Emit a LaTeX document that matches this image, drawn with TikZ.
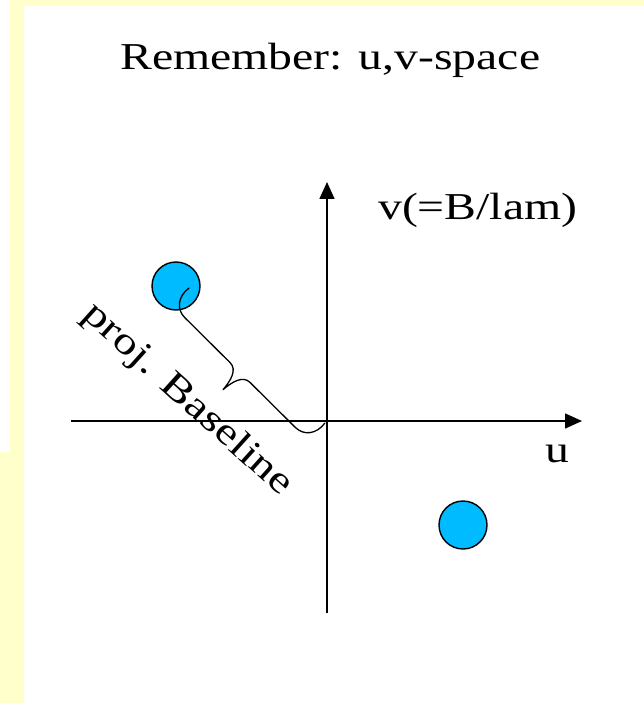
\documentclass[tikz,border=0pt]{standalone}
\usepackage{fontspec}
\usetikzlibrary{arrows.meta}
\newfontfamily\wide[FakeStretch=1.256]{Liberation Serif}
\definecolor{bgyellow}{RGB}{255,255,204}
\definecolor{dotcyan}{RGB}{0,187,255}
\begin{document}
\begin{tikzpicture}[x=1pt,y=-1pt,
  lbl/.style={inner sep=0pt, font=\wide\fontsize{38}{45}\selectfont},
  axis/.style={line width=1.6pt, -{Triangle[length=17pt,width=15pt]}},
  dot/.style={circle, draw=black, line width=1.4pt, fill=dotcyan, minimum size=48pt, inner sep=0pt},
  bracepath/.style={line width=1.3pt, line cap=round, line join=round}]
\useasboundingbox (0,0) rectangle (644,703);
\fill[white] (0,0) rectangle (644,703);
% yellow border strips
\fill[bgyellow] (10,0) -- (644,0) -- (644,6) -- (24,6) -- (24,703) -- (0,703) -- (0,452) -- (10,452) -- cycle;
% title
\node[lbl, anchor=base west] (title) at (120,69.5) {Remember: u,v-space};
% axes
\coordinate (xl) at (71,421);
\coordinate (xr) at (582,421);
\coordinate (yb) at (327,613);
\coordinate (yt) at (327,182);
\draw[axis] (xl) -- (xr);
\draw[axis] (yb) -- (yt);
\node[lbl, anchor=base west] (vlab) at (378,219) {v(=B/lam)};
\node[lbl, anchor=base west] (ulab) at (545,462) {u};
% points
\node[dot] (p1) at (176,286) {};
\node[dot] (p2) at (463,525) {};
% brace
\begin{scope}[shift={(189,288)}, rotate=-44.8]
\draw[bracepath] (0,0) .. controls (-2,14) and (6,24) .. (18,24)
  -- (81.8,24) .. controls (91.8,24) and (94.8,36) .. (95.8,48)
  .. controls (96.8,36) and (99.8,24) .. (109.8,24)
  -- (173.6,24) .. controls (185.6,24) and (193.6,14) .. (191.6,0);
\end{scope}
\node[lbl, anchor=base, rotate=-42] (proj) at (181,407) {proj. Baseline};
\end{tikzpicture}
\end{document}
